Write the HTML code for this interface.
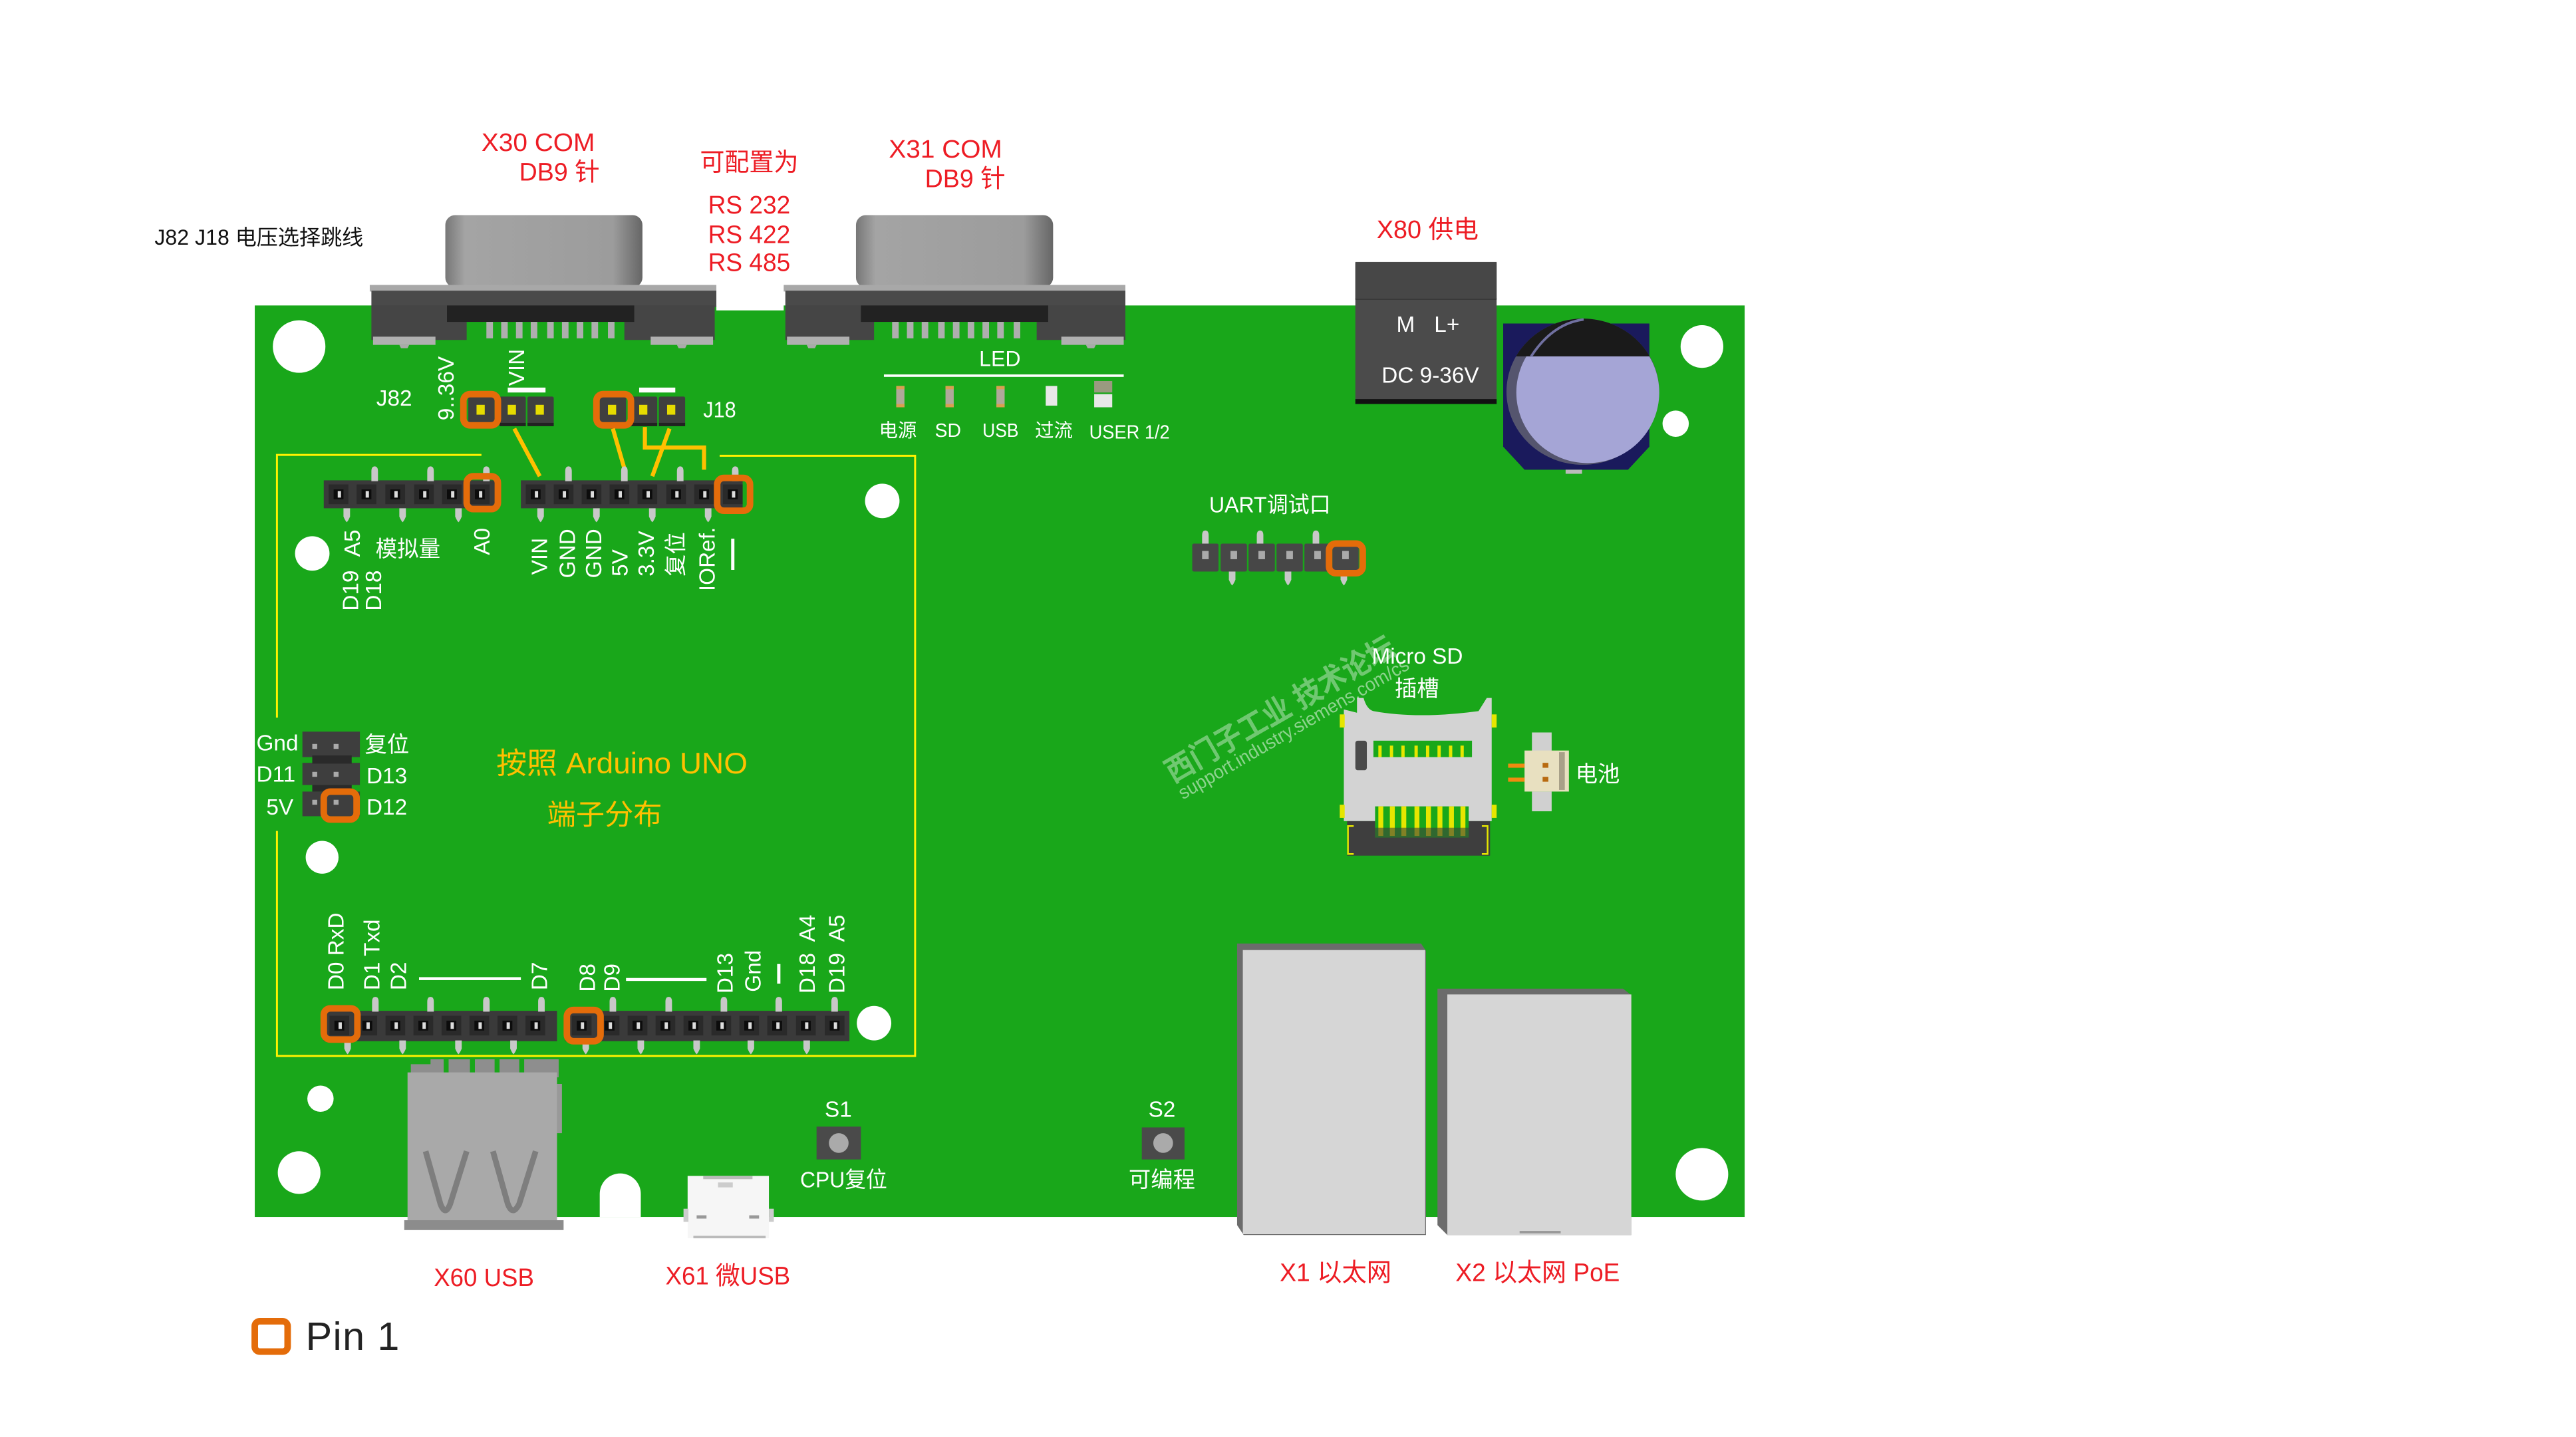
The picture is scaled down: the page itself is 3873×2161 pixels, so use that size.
<!DOCTYPE html>
<html><head><meta charset="utf-8"><style>
html,body{margin:0;padding:0;background:#fff;width:3873px;height:2161px;overflow:hidden}
svg{display:block}
text{font-family:"Liberation Sans","Noto Sans CJK SC",sans-serif;white-space:pre}
.r{fill:#ed1c24;font-size:15.5px}.w{fill:#fff;font-size:13.5px}.g{fill:#ffc000}
</style></head><body>
<svg xmlns="http://www.w3.org/2000/svg" width="3873" height="2161" viewBox="0 0 1568 875">
<defs>
<linearGradient id="sh" x1="0" x2="1" y1="0" y2="0"><stop offset="0" stop-color="#777"/><stop offset=".1" stop-color="#a4a4a4"/><stop offset=".85" stop-color="#9c9c9c"/><stop offset="1" stop-color="#666"/></linearGradient>
<clipPath id="capc"><ellipse cx="963.5" cy="238.5" rx="46.5" ry="44.5"/></clipPath>
<g id="s"><rect x="-6" y="-6" width="12" height="12" fill="#2a2a2a"/><rect x="-3" y="-3" width="6" height="6" fill="#0c0c0c"/><rect x="-.5" y="-2" width="2" height="4" fill="#ddd"/></g>
<path id="u" d="M-2 9V3Q-2 0 0 0Q2 0 2 3V9Z" fill="#c8c8c8"/>
<path id="d" d="M-2 0H2V5Q1 7.500 0 8.500Q-1 7.500-2 5Z" fill="#c8c8c8"/>
<g id="j"><rect x="-8" y="-8.5" width="16" height="17.5" rx="1" fill="#3f3f3f"/><rect x="-8" y="7.5" width="16" height="2" fill="#222"/><rect x="-3" y="-3.5" width="5" height="6" fill="#e6dc00"/></g>
<g id="p"><rect x="-8" y="-8.5" width="16" height="17" rx="1" fill="#474747"/><rect x="-2" y="-4" width="4" height="5" fill="#aaa"/></g>
</defs>

<!-- board -->
<rect x="155" y="186" width="907" height="555" fill="#19a71a"/>
<rect x="436" y="178" width="41" height="11" fill="#fff"/>
<path d="M365 741V727a12.5 12.5 0 0 1 25 0V741Z" fill="#fff"/>
<circle cx="182" cy="211" r="16" fill="#fff"/><circle cx="1036" cy="211" r="13" fill="#fff"/><circle cx="1020" cy="258" r="8" fill="#fff"/><circle cx="537" cy="305" r="10.5" fill="#fff"/><circle cx="190" cy="337" r="10.5" fill="#fff"/><circle cx="196" cy="522" r="10" fill="#fff"/><circle cx="532" cy="623" r="10.5" fill="#fff"/><circle cx="195" cy="669" r="8" fill="#fff"/><circle cx="182" cy="714" r="13" fill="#fff"/><circle cx="1036" cy="715" r="16" fill="#fff"/>

<!-- yellow frame -->
<path d="M293 277H168.5V437M168.5 506V643H557V277.500H438" fill="none" stroke="#fff200" stroke-width="1.200"/>

<!-- X30 -->
<rect x="271" y="131" width="120" height="44" rx="6" fill="url(#sh)"/>
<rect x="225" y="173.500" width="211" height="4" fill="#a8a8a8"/>
<rect x="226" y="177" width="210" height="10" fill="#4a4a4a"/>
<rect x="226" y="186" width="58" height="21" fill="#454545"/><rect x="380" y="186" width="55" height="21" fill="#454545"/>
<rect x="272" y="186" width="114" height="10" fill="#222"/>
<g fill="#aeaeae"><rect x="296" y="196" width="4" height="10"/><rect x="305" y="196" width="4" height="10"/><rect x="314" y="196" width="4" height="10"/><rect x="323" y="196" width="4" height="10"/><rect x="333" y="196" width="4" height="10"/><rect x="342" y="196" width="4" height="10"/><rect x="351" y="196" width="4" height="10"/><rect x="360" y="196" width="4" height="10"/><rect x="370" y="196" width="4" height="10"/></g>
<rect x="227" y="205" width="38" height="5" fill="#b0b0b0"/><rect x="396" y="205" width="38" height="5" fill="#b0b0b0"/>
<path d="M243 210h6l-1 2h-4ZM412 210h6l-1 2h-4ZM491 210h6l-1 2h-4ZM661 210h6l-1 2h-4Z" fill="#aaa"/>

<!-- X31 -->
<rect x="521" y="131" width="120" height="44" rx="6" fill="url(#sh)"/>
<rect x="477" y="173.500" width="208" height="4" fill="#a8a8a8"/>
<rect x="478" y="177" width="207" height="10" fill="#4a4a4a"/>
<rect x="478" y="186" width="54" height="21" fill="#454545"/><rect x="631" y="186" width="54" height="21" fill="#454545"/>
<rect x="524" y="186" width="114" height="10" fill="#222"/>
<g fill="#aeaeae"><rect x="543" y="196" width="4" height="10"/><rect x="552" y="196" width="4" height="10"/><rect x="561" y="196" width="4" height="10"/><rect x="571" y="196" width="4" height="10"/><rect x="580" y="196" width="4" height="10"/><rect x="589" y="196" width="4" height="10"/><rect x="598" y="196" width="4" height="10"/><rect x="607" y="196" width="4" height="10"/><rect x="617" y="196" width="4" height="10"/></g>
<rect x="479" y="205" width="38" height="5" fill="#b0b0b0"/><rect x="646" y="205" width="38" height="5" fill="#b0b0b0"/>

<!-- X80 -->
<rect x="825" y="159.500" width="86" height="86.500" fill="#4b4b4b"/>
<rect x="825" y="243" width="86" height="3" fill="#111"/><rect x="825" y="181.500" width="86" height="1" fill="#333"/>
<rect x="825" y="160" width="86" height="22" fill="#474747"/>

<!-- capacitor -->
<path d="M915 197H1004V272L991 286H928L915 272Z" fill="#1a1a5c"/>
<rect x="953" y="286" width="10" height="2.500" fill="#bbb"/>
<ellipse cx="963.5" cy="238.5" rx="46.5" ry="44.5" fill="#55556e"/>
<ellipse cx="966.5" cy="239" rx="43.5" ry="43" fill="#a5a5d6"/>
<g clip-path="url(#capc)"><rect x="920" y="190" width="95" height="27" fill="#1a1a1a"/></g>
<path d="M932 217Q945 197 964 194.500" fill="none" stroke="#7070a0" stroke-width="1.500"/>

<!-- J82 / J18 -->
<use href="#j" x="293" y="250"/><use href="#j" x="312" y="250"/><use href="#j" x="329" y="250"/>
<use href="#j" x="373" y="250"/><use href="#j" x="392" y="250"/><use href="#j" x="409" y="250"/>
<rect x="282" y="240" width="21" height="19" rx="4" fill="none" stroke="#e46c0a" stroke-width="4"/>
<rect x="363" y="240" width="21" height="19" rx="4" fill="none" stroke="#e46c0a" stroke-width="4"/>
<rect x="309" y="236" width="23" height="3" fill="#fff"/><rect x="389" y="236" width="22" height="3" fill="#fff"/>

<!-- gold jumper lines -->
<g fill="none" stroke="#ffc000" stroke-width="2.500"><path d="M313 261L328.500 290"/><path d="M373 261L380.500 287"/><path d="M407.500 261L397 290"/><path d="M392.500 260V272.500H428.500V286"/></g>

<!-- upper headers -->
<rect x="197" y="292.500" width="105" height="17" fill="#3a3a3a"/>
<rect x="317" y="292.500" width="135" height="17" fill="#3a3a3a"/>
<use href="#u" x="228" y="284"/><use href="#u" x="262" y="284"/><use href="#u" x="296" y="284"/><use href="#d" x="211" y="309.500"/><use href="#d" x="245" y="309.500"/><use href="#d" x="279" y="309.500"/>
<use href="#u" x="346" y="284"/><use href="#u" x="380" y="284"/><use href="#u" x="414" y="284"/><use href="#u" x="447.500" y="284"/><use href="#d" x="329" y="309.500"/><use href="#d" x="363" y="309.500"/><use href="#d" x="397" y="309.500"/><use href="#d" x="431" y="309.500"/>
<use href="#s" x="206" y="301"/><use href="#s" x="223" y="301"/><use href="#s" x="240.500" y="301"/><use href="#s" x="258" y="301"/><use href="#s" x="275" y="301"/><use href="#s" x="292" y="301"/>
<use href="#s" x="326" y="301"/><use href="#s" x="343" y="301"/><use href="#s" x="360" y="301"/><use href="#s" x="377" y="301"/><use href="#s" x="394" y="301"/><use href="#s" x="411.500" y="301"/><use href="#s" x="428.500" y="301"/><use href="#s" x="446" y="301"/>
<rect x="284" y="290" width="19" height="20" rx="4" fill="none" stroke="#e46c0a" stroke-width="4"/>
<rect x="436.500" y="291" width="20" height="20" rx="4" fill="none" stroke="#e46c0a" stroke-width="4"/>
<rect x="445" y="328" width="2" height="19" fill="#fff"/>

<!-- LEDs -->
<rect x="538" y="228" width="146" height="1.500" fill="#fff"/>
<g><rect x="545.500" y="235" width="5" height="13" fill="#b0a89a"/><rect x="545.500" y="235" width="5" height="2" fill="#d9a050"/><rect x="545.500" y="246" width="5" height="2" fill="#d9a050"/><rect x="575.500" y="235" width="5" height="13" fill="#b0a89a"/><rect x="575.500" y="235" width="5" height="2" fill="#d9a050"/><rect x="575.500" y="246" width="5" height="2" fill="#d9a050"/><rect x="606.500" y="235" width="5" height="13" fill="#b0a89a"/><rect x="606.500" y="235" width="5" height="2" fill="#d9a050"/><rect x="606.500" y="246" width="5" height="2" fill="#d9a050"/><rect x="636.500" y="235" width="7" height="12" fill="#e8e8e8"/><rect x="666" y="232" width="11" height="7" fill="#9a9a80"/><rect x="666" y="240" width="11" height="8" fill="#e8e8e8"/></g>

<!-- UART -->
<use href="#u" x="733.700" y="323"/><use href="#u" x="767" y="323"/><use href="#u" x="801" y="323"/><use href="#d" x="750" y="348"/><use href="#d" x="784" y="348"/><use href="#d" x="818" y="348"/>
<use href="#p" x="733.700" y="339.500"/><use href="#p" x="751" y="339.500"/><use href="#p" x="768" y="339.500"/><use href="#p" x="785" y="339.500"/><use href="#p" x="802" y="339.500"/><use href="#p" x="819" y="339.500"/>
<rect x="809" y="331" width="20.500" height="18" rx="4" fill="none" stroke="#e46c0a" stroke-width="4"/>

<!-- Left 2x3 header -->
<rect x="184" y="445.500" width="35" height="15.500" fill="#3e3e3e"/><rect x="184" y="464.500" width="35" height="13.500" fill="#3e3e3e"/><rect x="184" y="482" width="35" height="15" fill="#3e3e3e"/><rect x="190" y="460" width="24" height="5" fill="#2a2a2a"/><rect x="190" y="478" width="24" height="4" fill="#2a2a2a"/>
<g fill="#aaa"><rect x="190" y="453" width="3" height="3"/><rect x="203" y="453" width="3" height="3"/><rect x="190" y="470" width="3" height="3"/><rect x="203" y="470" width="3" height="3"/><rect x="190" y="487" width="3" height="3"/><rect x="203" y="487" width="3" height="3"/></g>
<rect x="197" y="482" width="20" height="17" rx="4" fill="none" stroke="#e46c0a" stroke-width="4"/>

<!-- bottom headers -->
<rect x="197" y="615.500" width="142" height="18.500" fill="#3a3a3a"/><rect x="344" y="615.500" width="173" height="18.500" fill="#3a3a3a"/>
<use href="#u" x="228.400" y="607"/><use href="#u" x="262" y="607"/><use href="#u" x="296" y="607"/><use href="#u" x="329.500" y="607"/><use href="#d" x="211.500" y="633.500"/><use href="#d" x="245" y="633.500"/><use href="#d" x="279" y="633.500"/><use href="#d" x="312.500" y="633.500"/>
<use href="#u" x="373" y="607"/><use href="#u" x="407" y="607"/><use href="#u" x="440.600" y="607"/><use href="#u" x="474" y="607"/><use href="#u" x="508" y="607"/><use href="#d" x="356.500" y="633.500"/><use href="#d" x="390" y="633.500"/><use href="#d" x="424" y="633.500"/><use href="#d" x="457" y="633.500"/><use href="#d" x="491" y="633.500"/>
<use href="#s" x="206.500" y="624.500"/><use href="#s" x="223.500" y="624.500"/><use href="#s" x="240.600" y="624.500"/><use href="#s" x="257.600" y="624.500"/><use href="#s" x="274.700" y="624.500"/><use href="#s" x="291.700" y="624.500"/><use href="#s" x="308.800" y="624.500"/><use href="#s" x="325.800" y="624.500"/>
<use href="#s" x="354" y="624.500"/><use href="#s" x="371" y="624.500"/><use href="#s" x="388" y="624.500"/><use href="#s" x="405" y="624.500"/><use href="#s" x="422" y="624.500"/><use href="#s" x="439" y="624.500"/><use href="#s" x="456" y="624.500"/><use href="#s" x="473" y="624.500"/><use href="#s" x="490.500" y="624.500"/><use href="#s" x="508" y="624.500"/>
<rect x="197" y="614" width="20.500" height="19" rx="4" fill="none" stroke="#e46c0a" stroke-width="4"/>
<rect x="345" y="615" width="20.500" height="19" rx="4" fill="none" stroke="#e46c0a" stroke-width="4"/>
<rect x="255" y="595" width="62" height="1.800" fill="#fff"/><rect x="381" y="595.500" width="49" height="1.800" fill="#fff"/><rect x="473" y="587" width="2" height="12" fill="#fff"/>

<!-- USB -->
<path d="M250 656V648H262V645H340V656Z" fill="#8e8e8e"/>
<g fill="#19a71a"><rect x="270" y="645" width="3" height="11"/><rect x="286" y="645" width="3" height="11"/><rect x="301" y="645" width="3" height="11"/><rect x="316" y="645" width="3" height="11"/></g>
<rect x="248" y="653" width="91" height="90" fill="#a9a9a9"/><rect x="339" y="660" width="3" height="30" fill="#999"/><rect x="246" y="743" width="97" height="6" fill="#8c8c8c"/>
<g fill="none" stroke="#7e7e7e" stroke-width="3.500"><path d="M259 701L268 733Q271 741 274 733L284 701"/><path d="M300 701L309 733Q312 741 316 733L326 701"/></g>

<!-- Micro USB -->
<rect x="418.500" y="716" width="49.500" height="38" fill="#f6f6f6"/><rect x="416" y="736" width="3" height="8" fill="#ccc"/><rect x="468" y="736" width="3" height="8" fill="#ccc"/><rect x="422" y="752.500" width="44" height="1.500" fill="#bbb"/><rect x="428" y="716" width="30" height="2" fill="#bbb"/><rect x="437" y="720" width="9" height="3" fill="#ccc"/><rect x="424" y="740" width="6" height="2" fill="#999"/><rect x="456" y="740" width="6" height="2" fill="#999"/>

<!-- buttons -->
<rect x="497" y="686" width="27" height="20" fill="#4a4a4a"/><circle cx="510.500" cy="696" r="6" fill="#aaa"/>
<rect x="695" y="686.500" width="26" height="19.500" fill="#4a4a4a"/><circle cx="708" cy="696" r="6" fill="#aaa"/>

<!-- Micro SD -->
<path d="M818 500V432L826 434V425H830Q832 432 836 433Q863 438 900 433L905 425H908V500Z" fill="#d3d3d3"/>
<rect x="820" y="500" width="87" height="21" fill="#3e3e3e"/>
<rect x="836" y="451" width="60" height="10" fill="#19a71a"/><g fill="#e6e600"><rect x="839" y="454" width="2" height="7"/><rect x="846" y="454" width="2" height="7"/><rect x="853" y="454" width="2" height="7"/><rect x="861" y="454" width="2" height="7"/><rect x="868" y="454" width="2" height="7"/><rect x="875" y="454" width="2" height="7"/><rect x="882" y="454" width="2" height="7"/><rect x="889" y="454" width="2" height="7"/></g>
<rect x="825" y="451" width="7" height="18" rx="1.500" fill="#4a4a4a"/>
<rect x="837" y="491" width="57" height="19" fill="#19a71a"/><g fill="#e6e600"><rect x="839" y="491" width="3" height="18"/><rect x="846" y="491" width="3" height="18"/><rect x="853" y="491" width="3" height="18"/><rect x="861" y="491" width="3" height="18"/><rect x="868" y="491" width="3" height="18"/><rect x="875" y="491" width="3" height="18"/><rect x="882" y="491" width="3" height="18"/><rect x="889" y="491" width="3" height="18"/></g>
<rect x="837" y="504" width="57" height="6" fill="#3e3e3e" opacity=".6"/>
<g fill="#e6e600"><rect x="815.500" y="435" width="3" height="8"/><rect x="908" y="435" width="3" height="8"/><rect x="815.500" y="490" width="3" height="8"/><rect x="908" y="490" width="3" height="8"/></g>
<path d="M824 503H820.500V520H824M902 503H905.500V520H902" fill="none" stroke="#e6e600" stroke-width="1"/>

<!-- battery connector -->
<rect x="932.500" y="446" width="12" height="12" fill="#d0d0d0"/><rect x="932.500" y="482" width="12" height="12" fill="#d0d0d0"/>
<rect x="928" y="457" width="27" height="25" fill="#e8e0c0"/><rect x="949" y="458" width="3.500" height="23" fill="#a8a088"/>
<rect x="918" y="465" width="10" height="2.500" fill="#f08a10"/><rect x="918" y="473.500" width="10" height="2.500" fill="#f08a10"/><rect x="939" y="464.500" width="3.500" height="3" fill="#b86a10"/><rect x="939" y="473" width="3.500" height="3" fill="#b86a10"/>

<!-- RJ45 -->
<path d="M753 574.500H865L868 579V752H757L753 746Z" fill="#6c6c6c"/><rect x="756.500" y="578.500" width="111" height="173" fill="#d6d6d6"/>
<path d="M875 602H988L993 606V752H881L875 746Z" fill="#6c6c6c"/><rect x="881" y="605.500" width="112" height="146.500" fill="#d6d6d6"/><rect x="925" y="749.500" width="25" height="1.500" fill="#999"/>

<!-- watermark -->
<text transform="translate(714 477) rotate(-30)" font-size="18.500" font-weight="bold" fill="#fff" fill-opacity=".38" textLength="158" lengthAdjust="spacingAndGlyphs">西门子工业 技术论坛</text>
<text transform="translate(720 487) rotate(-30)" font-size="11.500" fill="#fff" fill-opacity=".5" textLength="160" lengthAdjust="spacingAndGlyphs">support.industry.siemens.com/cs</text>

<!-- red labels -->
<g class="r">
<text class="r" x="293" y="92" textLength="69" lengthAdjust="spacingAndGlyphs">X30 COM</text><text class="r" x="316" y="110" textLength="49" lengthAdjust="spacingAndGlyphs">DB9 针</text>
<text class="r" x="426" y="104" textLength="60" lengthAdjust="spacingAndGlyphs">可配置为</text>
<text class="r" x="431" y="130" textLength="50" lengthAdjust="spacingAndGlyphs">RS 232</text><text class="r" x="431" y="148" textLength="50" lengthAdjust="spacingAndGlyphs">RS 422</text><text class="r" x="431" y="165" textLength="50" lengthAdjust="spacingAndGlyphs">RS 485</text>
<text class="r" x="541" y="96" textLength="69" lengthAdjust="spacingAndGlyphs">X31 COM</text><text class="r" x="563" y="114" textLength="49" lengthAdjust="spacingAndGlyphs">DB9 针</text>
<text class="r" x="838" y="145" textLength="62" lengthAdjust="spacingAndGlyphs">X80 供电</text>
<text class="r" x="264" y="783" textLength="61" lengthAdjust="spacingAndGlyphs">X60 USB</text><text class="r" x="405" y="782" textLength="76" lengthAdjust="spacingAndGlyphs">X61 微USB</text>
<text class="r" x="779" y="780" textLength="68" lengthAdjust="spacingAndGlyphs">X1 以太网</text><text class="r" x="886" y="780" textLength="100" lengthAdjust="spacingAndGlyphs">X2 以太网 PoE</text>
</g>
<text x="94" y="149" font-size="13" fill="#111">J82 J18 电压选择跳线</text>

<!-- white labels -->
<g class="w" fill="#fff" font-size="13.500">
<text class="w" x="229" y="247">J82</text><text class="w" x="428" y="254" textLength="20" lengthAdjust="spacingAndGlyphs">J18</text>
<text class="w" transform="translate(276 256) rotate(-90)">9..36V</text>
<text class="w" transform="translate(319 235) rotate(-90)">VIN</text>
<text class="w" x="228.500" y="339" textLength="39.500" lengthAdjust="spacingAndGlyphs">模拟量</text>
<text class="w" transform="translate(219 339) rotate(-90)">A5</text>
<text class="w" transform="translate(218 372) rotate(-90)">D19</text>
<text class="w" transform="translate(232 372) rotate(-90)">D18</text>
<text class="w" transform="translate(298 338) rotate(-90)">A0</text>
<text class="w" transform="translate(333 350) rotate(-90)">VIN</text>
<text class="w" transform="translate(350 352) rotate(-90)">GND</text>
<text class="w" transform="translate(366 352) rotate(-90)">GND</text>
<text class="w" transform="translate(382 351) rotate(-90)">5V</text>
<text class="w" transform="translate(398 351) rotate(-90)">3.3V</text>
<text class="w" transform="translate(416 351) rotate(-90)">复位</text>
<text class="w" transform="translate(435 360) rotate(-90)">IORef.</text>
<text class="w" x="596" y="223" style="font-size:13px">LED</text>
<text class="w" x="535" y="266" style="font-size:11.500px">电源</text><text class="w" x="569" y="266" style="font-size:11.500px">SD</text><text class="w" x="598" y="266" style="font-size:11.500px" textLength="22" lengthAdjust="spacingAndGlyphs">USB</text><text class="w" x="630" y="266" style="font-size:11.500px">过流</text><text class="w" x="663" y="267" style="font-size:11.500px" textLength="49" lengthAdjust="spacingAndGlyphs">USER 1/2</text>
<text class="w" x="850" y="202">M</text><text class="w" x="873" y="202">L+</text>
<text class="w" x="841" y="233">DC 9-36V</text>
<text class="w" x="736" y="312" textLength="74" lengthAdjust="spacingAndGlyphs">UART调试口</text>
<text class="w" x="835" y="404">Micro SD</text><text class="w" x="849" y="424">插槽</text>
<text class="w" x="959" y="476">电池</text>
<text class="w" x="156" y="457">Gnd</text><text class="w" x="156" y="476">D11</text><text class="w" x="162" y="496">5V</text>
<text class="w" x="222" y="458">复位</text><text class="w" x="223" y="477">D13</text><text class="w" x="223" y="496">D12</text>
<text class="w" transform="translate(209 603) rotate(-90)">D0 RxD</text>
<text class="w" transform="translate(231 603) rotate(-90)">D1 Txd</text>
<text class="w" transform="translate(247 603) rotate(-90)">D2</text>
<text class="w" transform="translate(333 603) rotate(-90)">D7</text>
<text class="w" transform="translate(362 604) rotate(-90)">D8</text>
<text class="w" transform="translate(377 604) rotate(-90)">D9</text>
<text class="w" transform="translate(446 605) rotate(-90)">D13</text>
<text class="w" transform="translate(463 604) rotate(-90)">Gnd</text>
<text class="w" transform="translate(496 605) rotate(-90)" xml:space="preserve">D18  A4</text>
<text class="w" transform="translate(514 605) rotate(-90)" xml:space="preserve">D19  A5</text>
<text class="w" x="502" y="680">S1</text><text class="w" x="487" y="723" textLength="53" lengthAdjust="spacingAndGlyphs">CPU复位</text>
<text class="w" x="699" y="680">S2</text><text class="w" x="687" y="723">可编程</text>
</g>

<text x="302" y="471" font-size="18" fill="#ffc000" textLength="153" lengthAdjust="spacingAndGlyphs">按照 Arduino UNO</text>
<text x="333" y="502" font-size="17.500" fill="#ffc000">端子分布</text>

<!-- legend -->
<rect x="155" y="804.500" width="20" height="18.500" rx="3" fill="none" stroke="#e46c0a" stroke-width="4"/>
<text x="186" y="822" font-size="24" fill="#222" textLength="57" lengthAdjust="spacing">Pin 1</text>
</svg>
</body></html>
